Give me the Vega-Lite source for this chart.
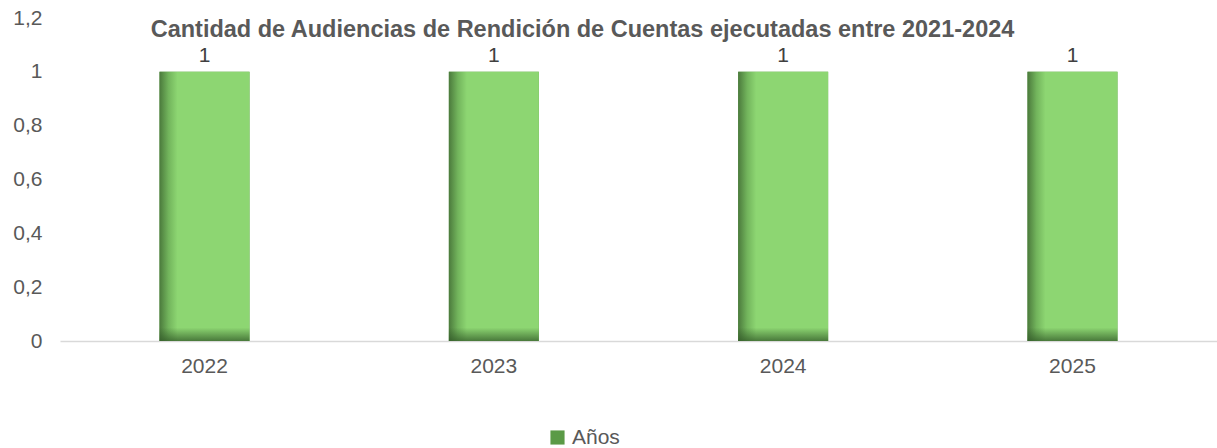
{
  "$schema": "https://vega.github.io/schema/vega-lite/v6.json",
  "width": 1157,
  "height": 323,
  "autosize": "none",
  "padding": {"left": 60, "top": 18, "right": 0, "bottom": 107},
  "background": "white",
  "config": {"view": {"stroke": null}, "font": "Liberation Sans"},
  "title": {
    "text": "Cantidad de Audiencias de Rendición de Cuentas ejecutadas entre 2021-2024",
    "font": "Liberation Sans",
    "fontSize": 23.5,
    "fontWeight": "bold",
    "color": "#595959",
    "anchor": "middle",
    "dx": -56,
    "baseline": "bottom",
    "offset": -58
  },
  "data": {
    "values": [
      {"anio": "2022", "valor": 1, "serie": "Años"},
      {"anio": "2023", "valor": 1, "serie": "Años"},
      {"anio": "2024", "valor": 1, "serie": "Años"},
      {"anio": "2025", "valor": 1, "serie": "Años"}
    ]
  },
  "encoding": {
    "x": {
      "field": "anio",
      "type": "ordinal",
      "scale": {"paddingInner": 0.689, "paddingOuter": 0.344},
      "axis": {
        "title": null,
        "labelAngle": 0,
        "labelFontSize": 21,
        "labelColor": "#595959",
        "labelPadding": 14,
        "ticks": false,
        "domainColor": "#d9d9d9",
        "domainWidth": 1.3,
        "grid": false
      }
    },
    "y": {
      "field": "valor",
      "type": "quantitative",
      "scale": {"domain": [0, 1.2], "nice": false},
      "axis": {
        "title": null,
        "values": [0, 0.2, 0.4, 0.6, 0.8, 1, 1.2],
        "labelExpr": "replace(format(datum.value, '.1~f'), '.', ',')",
        "labelFontSize": 21,
        "labelColor": "#595959",
        "labelPadding": 18,
        "ticks": false,
        "domain": false,
        "grid": false
      }
    }
  },
  "layer": [
    {
      "mark": {"type": "bar"},
      "encoding": {
        "color": {
          "field": "serie",
          "type": "nominal",
          "scale": {"range": ["#5a9a46"]},
          "legend": {
            "title": null,
            "orient": "none",
            "legendX": 487,
            "legendY": 409,
            "symbolType": "square",
            "symbolSize": 200,
            "labelFontSize": 21,
            "labelColor": "#595959",
            "labelOffset": 4,
            "padding": 0,
            "symbolStrokeWidth": 0
          }
        }
      }
    },
    {
      "mark": {
        "type": "bar",
        "fill": {"gradient": "linear", "x1": 0, "x2": 1, "y1": 0, "y2": 0, "stops": [{"offset": 0, "color": "#4b7a3c"}, {"offset": 0.1, "color": "#72b45c"}, {"offset": 0.2, "color": "#8dd672"}, {"offset": 1, "color": "#8dd672"}]}
      }
    },
    {
      "mark": {
        "type": "bar",
        "fill": {"gradient": "linear", "x1": 0, "x2": 0, "y1": 0, "y2": 1, "stops": [{"offset": 0, "color": "rgba(50,90,40,0)"}, {"offset": 0.95, "color": "rgba(50,90,40,0)"}, {"offset": 1, "color": "rgba(50,90,40,0.75)"}]}
      }
    },
    {
      "mark": {"type": "text", "baseline": "bottom", "dy": -6, "fontSize": 21, "color": "#404040"},
      "encoding": {"text": {"field": "valor", "type": "quantitative"}}
    }
  ]
}
